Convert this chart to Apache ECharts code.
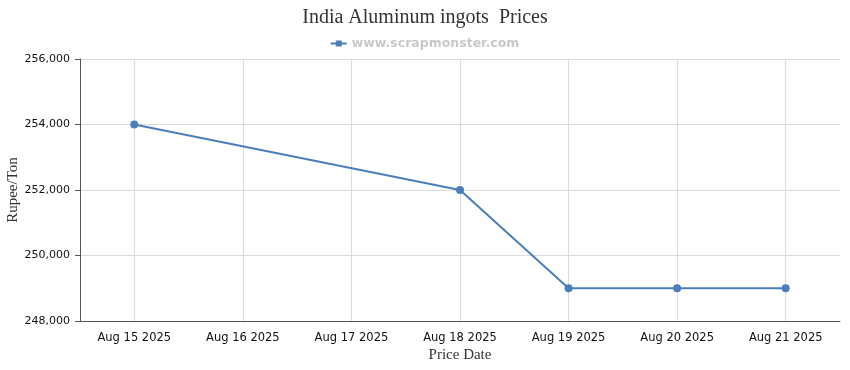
<!DOCTYPE html>
<html><head><meta charset="utf-8">
<script src="https://cdn.jsdelivr.net/npm/echarts@6/dist/echarts.min.js"></script>
<style>html,body{margin:0;padding:0;background:#fff}#c{width:850px;height:370px}</style>
</head><body><div id="c"></div>
<script>
const categories = ['Aug 15 2025','Aug 16 2025','Aug 17 2025','Aug 18 2025','Aug 19 2025','Aug 20 2025','Aug 21 2025'];
const prices = [254000, null, null, 252000, 249000, 249000, 249000];
const yTicks = [248000, 250000, 252000, 254000, 256000];
const seriesName = 'www.scrapmonster.com';
const titleText = 'India Aluminum ingots  Prices';

const chart = echarts.init(document.getElementById('c'), null, {renderer:'canvas'});
chart.setOption({
  animation:false,
  backgroundColor:'#fff',
  title:{text:titleText,left:'center',top:3,textStyle:{fontFamily:'Liberation Serif',fontSize:20,fontWeight:'normal',color:'#333'}},
  legend:{top:32,left:'center',itemWidth:16,itemHeight:8,icon:'path://M0,3H16V5H0Z M5,1H11V7H5Z',itemGap:5,
    textStyle:{fontFamily:'DejaVu Sans',fontSize:12.5,fontWeight:'bold',color:'#c8c8c8'},data:[seriesName]},
  grid:{left:80,right:10,top:59,bottom:49,outerBoundsMode:'none',containLabel:false},
  xAxis:{type:'category',data:categories,boundaryGap:true,
    name:'Price Date',nameLocation:'middle',nameGap:27,nameMoveOverlap:false,nameTextStyle:{fontFamily:'Liberation Serif',fontSize:15,color:'#333'},
    axisLine:{lineStyle:{color:'#555'}},
    axisTick:{alignWithLabel:true,length:5,lineStyle:{color:'#555'}},
    axisLabel:{fontFamily:'DejaVu Sans',fontSize:11.5,color:'#111',margin:11},
    splitLine:{show:true,alignWithLabel:true,lineStyle:{color:'#dcdcdc'}}},
  yAxis:{type:'value',min:yTicks[0],max:yTicks[yTicks.length-1],interval:2000,
    name:'Rupee/Ton',nameLocation:'middle',nameGap:59,nameMoveOverlap:false,nameTextStyle:{fontFamily:'Liberation Serif',fontSize:15,color:'#333'},
    axisLine:{show:true,lineStyle:{color:'#555'}},
    axisTick:{show:true,length:5,lineStyle:{color:'#555'}},
    axisLabel:{fontFamily:'DejaVu Sans',fontSize:11,color:'#111',margin:10},
    splitLine:{lineStyle:{color:'#dcdcdc'}}},
  series:[{name:seriesName,type:'line',data:prices,connectNulls:true,symbol:'circle',symbolSize:8,
    itemStyle:{color:'#4a7ebb'},lineStyle:{color:'#4a7ebb',width:2}}]
});
</script></body></html>
